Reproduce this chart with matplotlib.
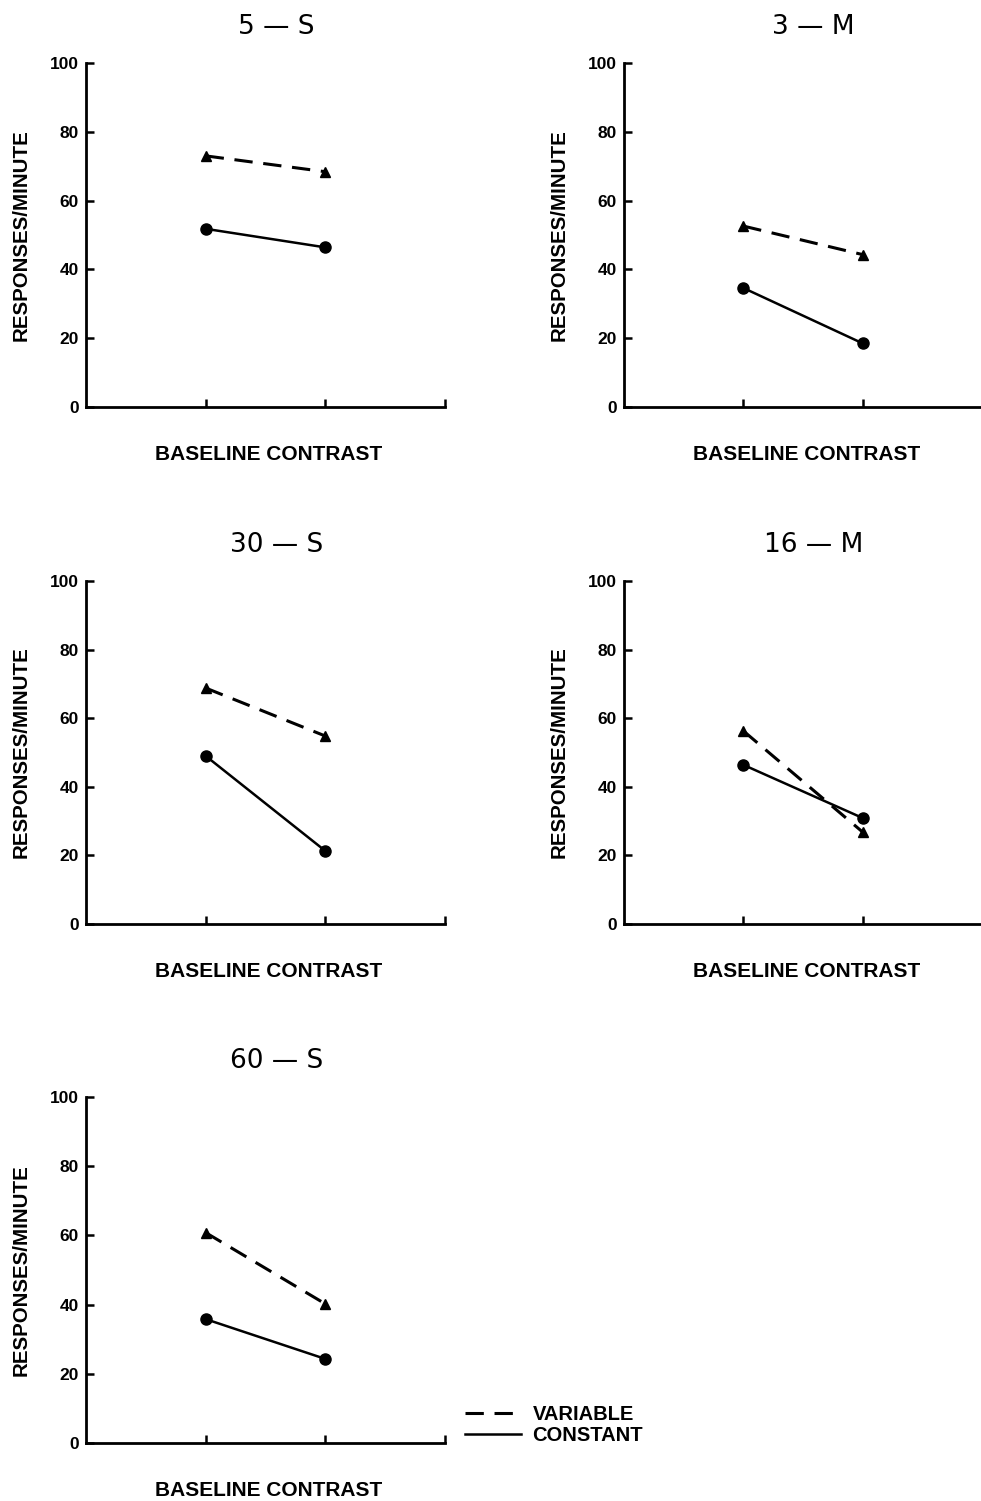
import matplotlib
matplotlib.use("agg")
import matplotlib.pyplot as plt
from matplotlib.lines import Line2D

titles = ["5 \u2014 S", "3 \u2014 M", "30 \u2014 S", "16 \u2014 M", "60 \u2014 S"]
variable = [[73.0, 68.4], [52.6, 44.3], [68.8, 54.8], [56.3, 26.8], [60.8, 40.2]]
constant = [[51.8, 46.4], [34.6, 18.5], [49.0, 21.3], [46.4, 30.9], [35.8, 24.3]]
conditions = [1, 2]
yticks = [0, 20, 40, 60, 80, 100]

plt.rcParams["font.family"] = ["Liberation Sans", "DejaVu Sans"]

fig = plt.figure(figsize=(9.81, 15.01), dpi=100)
W, H = 981, 1501

# axes boxes in pixels: left, top, width, height
boxes = [(86, 63, 359, 344), (624, 63, 358, 344),
         (86, 581, 359, 343), (624, 581, 358, 343),
         (86, 1097, 359, 346)]

dash = (0, (6, 3.5))

for i, (l, t, w, h) in enumerate(boxes):
    ax = fig.add_axes([l / W, 1 - (t + h) / H, w / W, h / H])
    ax.plot(conditions, variable[i], color="black", lw=2.2, ls=dash,
            marker="^", ms=7)
    ax.plot(conditions, constant[i], color="black", lw=1.8, marker="o", ms=8)
    ax.set_xlim(0, 3)
    ax.set_ylim(0, 100)
    ax.set_xticks([1, 2, 3])
    ax.set_xticklabels([])
    ax.set_yticks(yticks)
    ax.set_yticklabels([str(v) for v in yticks], fontsize=12.5, fontweight="bold")
    ax.tick_params(direction="in", length=6, width=1.8, pad=5)
    for s in ["top", "right"]:
        ax.spines[s].set_visible(False)
    for s in ["left", "bottom"]:
        ax.spines[s].set_linewidth(2)
    ax.set_title(titles[i], x=0.53, pad=21, fontsize=19, fontfamily="DejaVu Sans")
    ax.set_xlabel("BASELINE CONTRAST", fontsize=15, fontweight="bold")
    ax.xaxis.set_label_coords(0.51, -38 / h)
    ax.set_ylabel("RESPONSES/MINUTE", fontsize=14.8, fontweight="bold")
    ax.yaxis.set_label_coords(-0.155, 0.5)

handles = [Line2D([], [], color="black", lw=2.2, ls=dash),
           Line2D([], [], color="black", lw=1.8)]
fig.legend(handles, ["VARIABLE", "CONSTANT"], loc="upper left",
           bbox_to_anchor=(457 / W, 1 - 1397 / H), frameon=False,
           prop={"size": 14.5, "weight": "bold"}, handlelength=2.8,
           handletextpad=0.55, labelspacing=0.1, borderaxespad=0)

fig.savefig("out.png", dpi=100)
